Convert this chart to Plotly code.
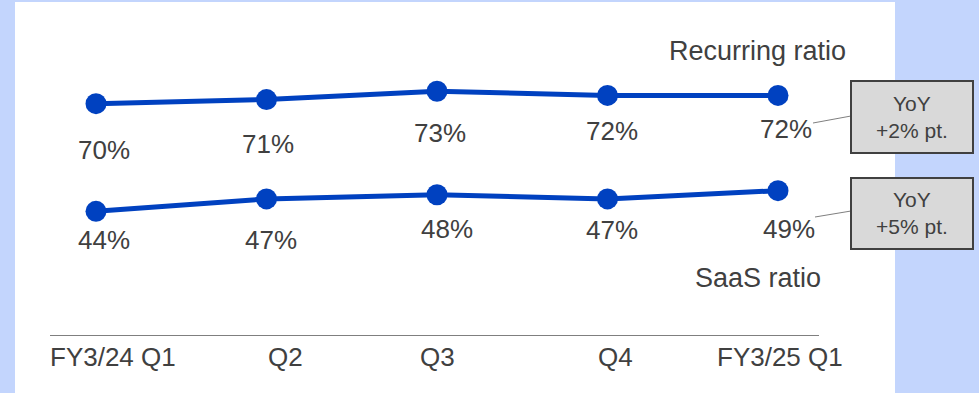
import plotly.graph_objects as go

# Quarterly ratios (%)
quarters = ["FY3/24 Q1", "Q2", "Q3", "Q4", "FY3/25 Q1"]
recurring = [70, 71, 73, 72, 72]
saas = [44, 47, 48, 47, 49]
yoy_recurring = "+2% pt."
yoy_saas = "+5% pt."

BLUE = "#0041C0"
TEXT = "#404040"
FONT = "Arial, Liberation Sans, sans-serif"

W, H = 979, 393
# plot area in pixels
L, R, T, B = 50, 819, 2, 335


def px(x):
    return (x - L) / (R - L)


def py(y):
    return (B - y) / (B - T)


fig = go.Figure()
for vals in (recurring, saas):
    fig.add_trace(go.Scatter(
        x=list(range(len(quarters))), y=vals, mode="lines+markers",
        line=dict(color=BLUE, width=5),
        marker=dict(color=BLUE, size=21),
        hoverinfo="skip", showlegend=False, cliponaxis=False,
    ))

annotations = []
# value labels under each point
rec_shift = [(8, -46), (1, -44), (3, -42), (4, -36), (8, -34)]
saas_shift = [(8, -29), (4, -41), (10, -34), (4, -31), (11, -38)]
for vals, shifts in ((recurring, rec_shift), (saas, saas_shift)):
    for i, (v, (dx, dy)) in enumerate(zip(vals, shifts)):
        annotations.append(dict(
            x=i, y=v, xref="x", yref="y", text=f"{v}%", showarrow=False,
            xshift=dx, yshift=dy, xanchor="center", yanchor="middle",
            font=dict(family=FONT, size=26, color=TEXT),
        ))

# category labels under the axis line
cat_shift = [17, 19, 0, 8, 2]
for i, (q, dx) in enumerate(zip(quarters, cat_shift)):
    annotations.append(dict(
        x=i, y=0, xref="x", yref="paper", text=q, showarrow=False,
        xshift=dx, yshift=-22, xanchor="center", yanchor="middle",
        font=dict(family=FONT, size=26, color=TEXT),
    ))

# series names
annotations.append(dict(x=px(757), y=py(51), xref="paper", yref="paper",
                        text="Recurring ratio", showarrow=False,
                        xanchor="center", yanchor="middle",
                        font=dict(family=FONT, size=27, color=TEXT)))
annotations.append(dict(x=px(758), y=py(278), xref="paper", yref="paper",
                        text="SaaS ratio", showarrow=False,
                        xanchor="center", yanchor="middle",
                        font=dict(family=FONT, size=27, color=TEXT)))

shapes = [
    # white panel
    dict(type="rect", xref="paper", yref="paper", layer="below",
         x0=px(15), x1=px(895), y0=py(393), y1=py(2),
         fillcolor="white", line=dict(width=0)),
]

# YoY call-out boxes with leader lines
boxes = [((81, 153), (813, 123, 851, 116), yoy_recurring),
         ((178, 249), (815, 217, 851, 211), yoy_saas)]
for (y0, y1), (lx0, ly0, lx1, ly1), txt in boxes:
    shapes.append(dict(type="line", xref="paper", yref="paper",
                       x0=px(lx0), y0=py(ly0), x1=px(lx1), y1=py(ly1),
                       line=dict(color="#7f7f7f", width=1)))
    shapes.append(dict(type="rect", xref="paper", yref="paper",
                       x0=px(851), x1=px(973), y0=py(y1), y1=py(y0),
                       fillcolor="#D9D9D9", line=dict(color=TEXT, width=2)))
    annotations.append(dict(x=px(912), y=py((y0 + y1) / 2), xref="paper",
                            yref="paper", text=f"YoY<br>{txt}",
                            showarrow=False, xanchor="center",
                            yanchor="middle", align="center",
                            font=dict(family=FONT, size=21, color=TEXT)))

fig.update_layout(
    width=W, height=H, autosize=False,
    margin=dict(l=L, r=W - R, t=T, b=H - B, pad=0),
    paper_bgcolor="#C3D5FD", plot_bgcolor="rgba(0,0,0,0)",
    xaxis=dict(range=[-0.2698, 4.2405], showgrid=False, zeroline=False,
               showticklabels=False, ticks="", showline=True,
               linecolor="#7f7f7f", linewidth=1, fixedrange=True),
    yaxis=dict(range=[14.14, 94.56], showgrid=False, zeroline=False,
               showticklabels=False, ticks="", showline=False,
               fixedrange=True),
    shapes=shapes, annotations=annotations, showlegend=False,
)

fig.write_html("out.html", config={"displayModeBar": False})
